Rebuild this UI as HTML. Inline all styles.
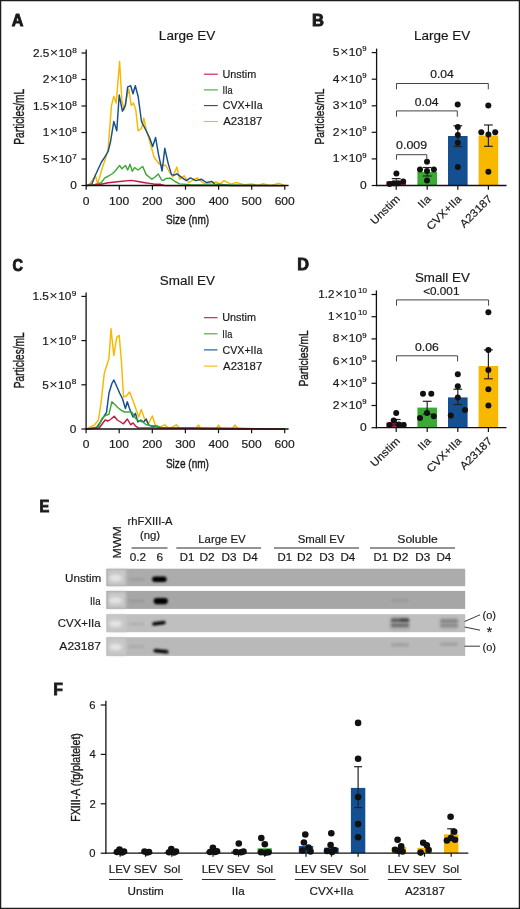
<!DOCTYPE html>
<html><head><meta charset="utf-8"><title>Figure</title><style>
html,body{margin:0;padding:0;background:#fff;}
svg{display:block;will-change:transform;}
text{font-family:"Liberation Sans",sans-serif;fill:#1a1a1a;stroke:#1a1a1a;stroke-width:0.18px;}
</style></head><body>
<svg width="520" height="909" viewBox="0 0 520 909">
<rect x="0" y="0" width="520" height="909" fill="#fff"/>
<text transform="translate(11.85,26.20) scale(1.020,1)" font-size="15.8" font-weight="bold" style="stroke-width:0.9px">A</text>
<text transform="translate(158.87,40.20) scale(1.043,1)" font-size="13.0" >Large EV</text>
<polyline points="86.5,185.6 89.6,183.9 92.5,180.0 95.4,175.8 97.7,183.9 100.0,176.0 102.3,167.7 105.0,160.0 108.1,149.2 111.5,105.4 113.8,96.2 116.2,103.1 119.6,61.5 121.9,100.8 124.2,110.0 126.5,98.5 128.8,89.2 131.2,105.4 133.5,103.1 135.8,110.0 138.1,130.8 141.5,128.5 143.8,118.1 146.2,129.6 149.6,141.0 154.2,157.5 158.8,163.5 162.3,165.5 165.5,165.0 168.6,170.5 172.7,176.9 176.9,167.1 179.6,179.2 184.2,175.8 188.8,182.7 193.0,180.0 197.1,177.9 203.8,183.3 209.2,183.3 216.0,182.0 220.0,184.0 224.0,180.6 230.8,184.1 236.2,182.5 244.2,184.6 252.0,184.0 258.0,185.6 263.0,183.8 270.0,185.6 279.2,183.3 285.0,185.6" fill="none" stroke="#f9b800" stroke-width="1.45" stroke-linejoin="round"/>
<polyline points="86.5,185.6 91.9,183.9 95.0,176.0 98.8,167.7 101.5,162.0 104.6,157.3 108.1,151.5 110.4,142.3 113.8,121.5 116.8,130.8 119.2,95.0 122.4,111.2 125.4,105.4 127.7,86.9 130.7,85.8 133.0,93.8 135.3,85.8 138.1,96.2 141.5,121.5 145.0,128.5 149.6,137.7 152.7,146.5 155.6,137.5 158.4,153.8 162.1,171.0 164.8,148.3 168.1,163.1 171.5,174.6 174.2,175.2 176.9,173.8 182.3,177.9 186.3,180.6 190.4,177.9 195.8,180.6 201.2,179.2 206.5,182.5 211.9,181.4 214.6,184.1 222.0,184.5 230.0,185.6 285.0,185.6" fill="none" stroke="#144f91" stroke-width="1.45" stroke-linejoin="round"/>
<polyline points="86.5,185.6 95.0,184.5 101.2,182.7 104.6,178.1 108.5,176.0 112.7,173.5 116.0,170.0 119.6,165.4 121.9,168.8 125.4,165.4 127.7,170.0 130.0,164.2 132.3,171.2 134.6,167.7 138.1,170.0 142.7,166.5 146.2,174.6 151.9,179.2 155.0,177.0 158.4,174.0 161.5,180.0 163.5,180.4 166.0,178.5 170.4,178.1 175.0,181.5 179.6,183.9 190.0,184.6 285.0,185.6" fill="none" stroke="#3aaa35" stroke-width="1.45" stroke-linejoin="round"/>
<polyline points="86.5,185.6 100.0,184.5 108.1,182.7 119.6,181.5 131.2,180.4 138.1,181.5 145.0,182.7 149.6,183.4 155.0,184.3 160.0,184.3 165.0,185.6 285.0,185.6" fill="none" stroke="#c4183f" stroke-width="1.45" stroke-linejoin="round"/>
<line x1="86.2" y1="49.6" x2="86.2" y2="186.1" stroke="#111" stroke-width="1.3"/>
<line x1="81.5" y1="185.5" x2="86.2" y2="185.5" stroke="#111" stroke-width="1.2"/>
<text transform="translate(76.95,189.40) scale(1.16,1)" font-size="10.2" text-anchor="end">0</text>
<line x1="81.5" y1="159.0" x2="86.2" y2="159.0" stroke="#111" stroke-width="1.2"/>
<text transform="translate(76.85,158.60) scale(1.25,1)" font-size="6.6" text-anchor="end">7</text>
<text transform="translate(71.90,162.90) scale(1.16,1)" font-size="10.2" text-anchor="end">5<tspan dx="0.4" font-size="12.5" stroke-width="0">&#215;</tspan><tspan dx="0.3">10</tspan></text>
<line x1="81.5" y1="132.5" x2="86.2" y2="132.5" stroke="#111" stroke-width="1.2"/>
<text transform="translate(76.85,132.10) scale(1.25,1)" font-size="6.6" text-anchor="end">8</text>
<text transform="translate(71.77,136.40) scale(1.16,1)" font-size="10.2" text-anchor="end">1<tspan dx="0.4" font-size="12.5" stroke-width="0">&#215;</tspan><tspan dx="0.3">10</tspan></text>
<line x1="81.5" y1="106.0" x2="86.2" y2="106.0" stroke="#111" stroke-width="1.2"/>
<text transform="translate(76.85,105.60) scale(1.25,1)" font-size="6.6" text-anchor="end">8</text>
<text transform="translate(71.77,109.90) scale(1.16,1)" font-size="10.2" text-anchor="end">1.5<tspan dx="0.4" font-size="12.5" stroke-width="0">&#215;</tspan><tspan dx="0.3">10</tspan></text>
<line x1="81.5" y1="79.5" x2="86.2" y2="79.5" stroke="#111" stroke-width="1.2"/>
<text transform="translate(76.85,79.10) scale(1.25,1)" font-size="6.6" text-anchor="end">8</text>
<text transform="translate(71.77,83.40) scale(1.16,1)" font-size="10.2" text-anchor="end">2<tspan dx="0.4" font-size="12.5" stroke-width="0">&#215;</tspan><tspan dx="0.3">10</tspan></text>
<line x1="81.5" y1="53.0" x2="86.2" y2="53.0" stroke="#111" stroke-width="1.2"/>
<text transform="translate(76.85,52.60) scale(1.25,1)" font-size="6.6" text-anchor="end">8</text>
<text transform="translate(71.77,56.90) scale(1.16,1)" font-size="10.2" text-anchor="end">2.5<tspan dx="0.4" font-size="12.5" stroke-width="0">&#215;</tspan><tspan dx="0.3">10</tspan></text>
<line x1="85.6" y1="185.5" x2="288.6" y2="185.5" stroke="#111" stroke-width="1.3"/>
<line x1="86.2" y1="185.5" x2="86.2" y2="189.7" stroke="#111" stroke-width="1.2"/>
<text transform="translate(82.82,204.90) scale(1.150,1)" font-size="10.5">0</text>
<line x1="119.3" y1="185.5" x2="119.3" y2="189.7" stroke="#111" stroke-width="1.2"/>
<text transform="translate(109.01,204.90) scale(1.150,1)" font-size="10.5">100</text>
<line x1="152.4" y1="185.5" x2="152.4" y2="189.7" stroke="#111" stroke-width="1.2"/>
<text transform="translate(142.26,204.90) scale(1.150,1)" font-size="10.5">200</text>
<line x1="185.5" y1="185.5" x2="185.5" y2="189.7" stroke="#111" stroke-width="1.2"/>
<text transform="translate(175.42,204.90) scale(1.150,1)" font-size="10.5">300</text>
<line x1="218.6" y1="185.5" x2="218.6" y2="189.7" stroke="#111" stroke-width="1.2"/>
<text transform="translate(208.64,204.90) scale(1.150,1)" font-size="10.5">400</text>
<line x1="251.7" y1="185.5" x2="251.7" y2="189.7" stroke="#111" stroke-width="1.2"/>
<text transform="translate(241.62,204.90) scale(1.150,1)" font-size="10.5">500</text>
<line x1="284.8" y1="185.5" x2="284.8" y2="189.7" stroke="#111" stroke-width="1.2"/>
<text transform="translate(274.66,204.90) scale(1.150,1)" font-size="10.5">600</text>
<text transform="translate(166.10,224.40) scale(0.741,1)" font-size="13.6" style="stroke-width:0.4px">Size (nm)</text>
<text transform="translate(23.71,144.66) rotate(-90) scale(0.739,1)" font-size="13.74" style="stroke-width:0.4px">Particles/mL</text>
<line x1="204.0" y1="74.2" x2="217.8" y2="74.2" stroke="#c4183f" stroke-width="1.1"/>
<text transform="translate(222.44,77.90) scale(1.024,1)" font-size="10.6" >Unstim</text>
<line x1="204.0" y1="89.9" x2="217.8" y2="89.9" stroke="#3aaa35" stroke-width="1.1"/>
<text transform="translate(222.42,93.60) scale(0.869,1)" font-size="10.6" >IIa</text>
<line x1="204.0" y1="105.6" x2="217.8" y2="105.6" stroke="#144f91" stroke-width="1.1"/>
<text transform="translate(222.72,109.30) scale(1.005,1)" font-size="10.6" >CVX+IIa</text>
<line x1="204.0" y1="121.5" x2="217.8" y2="121.5" stroke="#f9b800" stroke-width="1.1"/>
<text transform="translate(223.25,125.20) scale(1.073,1)" font-size="10.6" >A23187</text>
<text transform="translate(12.47,270.60) scale(0.918,1)" font-size="15.8" font-weight="bold" style="stroke-width:0.9px">C</text>
<text transform="translate(159.74,284.50) scale(1.036,1)" font-size="13.0" >Small EV</text>
<polyline points="86.3,429.1 88.8,427.7 94.6,424.8 98.5,420.0 101.3,400.8 104.2,373.8 107.1,364.2 109.0,358.5 111.0,328.7 113.8,355.6 116.7,337.3 119.2,335.4 121.5,362.3 123.5,397.0 126.3,396.0 129.6,392.0 133.0,400.8 136.5,410.4 138.8,417.0 141.3,409.4 144.6,419.0 148.5,423.8 152.3,416.0 155.2,424.8 159.0,426.7 161.0,426.7 164.8,424.8 167.7,427.7 171.5,427.7 176.3,424.8 179.0,427.7 185.0,428.0 196.0,428.0 198.7,425.0 201.0,429.1 216.0,429.1 218.6,425.0 221.0,429.1 232.0,429.1 235.0,425.0 238.0,429.1 285.0,429.1" fill="none" stroke="#f9b800" stroke-width="1.45" stroke-linejoin="round"/>
<polyline points="86.3,429.1 96.5,427.7 100.4,422.0 104.2,416.0 106.5,412.3 109.0,393.0 111.9,383.5 113.8,380.0 116.7,386.3 119.6,393.0 122.5,398.8 125.4,408.5 127.3,401.7 130.2,410.4 133.0,417.0 135.4,413.3 137.9,422.0 140.8,420.0 143.7,422.0 146.2,419.0 148.5,424.8 152.3,426.7 156.0,425.8 160.0,428.0 285.0,429.1" fill="none" stroke="#144f91" stroke-width="1.45" stroke-linejoin="round"/>
<polyline points="86.3,429.1 98.5,426.7 102.3,418.0 106.2,415.2 109.0,414.2 111.9,401.7 114.8,404.6 117.7,407.5 121.5,410.4 124.4,412.0 129.2,412.0 132.1,412.3 134.6,417.0 137.0,420.0 139.8,421.0 142.7,422.0 146.5,424.8 151.3,425.8 155.2,425.8 159.0,426.7 162.0,428.0 285.0,429.1" fill="none" stroke="#3aaa35" stroke-width="1.45" stroke-linejoin="round"/>
<polyline points="86.3,429.1 99.4,427.7 102.3,423.8 105.2,420.0 108.0,421.0 111.0,419.0 114.2,416.2 117.3,420.0 120.6,422.0 123.5,423.8 127.3,419.0 130.8,424.8 133.0,422.9 135.4,425.8 137.9,427.7 285.0,429.1" fill="none" stroke="#c4183f" stroke-width="1.45" stroke-linejoin="round"/>
<line x1="86.1" y1="292.6" x2="86.1" y2="429.6" stroke="#111" stroke-width="1.3"/>
<line x1="81.4" y1="429.0" x2="86.1" y2="429.0" stroke="#111" stroke-width="1.2"/>
<text transform="translate(76.45,432.90) scale(1.16,1)" font-size="10.2" text-anchor="end">0</text>
<line x1="81.4" y1="384.8" x2="86.1" y2="384.8" stroke="#111" stroke-width="1.2"/>
<text transform="translate(76.35,384.40) scale(1.25,1)" font-size="6.6" text-anchor="end">8</text>
<text transform="translate(71.27,388.70) scale(1.16,1)" font-size="10.2" text-anchor="end">5<tspan dx="0.4" font-size="12.5" stroke-width="0">&#215;</tspan><tspan dx="0.3">10</tspan></text>
<line x1="81.4" y1="340.6" x2="86.1" y2="340.6" stroke="#111" stroke-width="1.2"/>
<text transform="translate(76.35,340.20) scale(1.25,1)" font-size="6.6" text-anchor="end">9</text>
<text transform="translate(71.31,344.50) scale(1.16,1)" font-size="10.2" text-anchor="end">1<tspan dx="0.4" font-size="12.5" stroke-width="0">&#215;</tspan><tspan dx="0.3">10</tspan></text>
<line x1="81.4" y1="296.4" x2="86.1" y2="296.4" stroke="#111" stroke-width="1.2"/>
<text transform="translate(76.35,296.00) scale(1.25,1)" font-size="6.6" text-anchor="end">9</text>
<text transform="translate(71.31,300.30) scale(1.16,1)" font-size="10.2" text-anchor="end">1.5<tspan dx="0.4" font-size="12.5" stroke-width="0">&#215;</tspan><tspan dx="0.3">10</tspan></text>
<line x1="85.5" y1="429.0" x2="288.6" y2="429.0" stroke="#111" stroke-width="1.3"/>
<line x1="86.1" y1="429.0" x2="86.1" y2="433.2" stroke="#111" stroke-width="1.2"/>
<text transform="translate(82.72,448.40) scale(1.150,1)" font-size="10.5">0</text>
<line x1="119.2" y1="429.0" x2="119.2" y2="433.2" stroke="#111" stroke-width="1.2"/>
<text transform="translate(108.91,448.40) scale(1.150,1)" font-size="10.5">100</text>
<line x1="152.3" y1="429.0" x2="152.3" y2="433.2" stroke="#111" stroke-width="1.2"/>
<text transform="translate(142.16,448.40) scale(1.150,1)" font-size="10.5">200</text>
<line x1="185.4" y1="429.0" x2="185.4" y2="433.2" stroke="#111" stroke-width="1.2"/>
<text transform="translate(175.32,448.40) scale(1.150,1)" font-size="10.5">300</text>
<line x1="218.5" y1="429.0" x2="218.5" y2="433.2" stroke="#111" stroke-width="1.2"/>
<text transform="translate(208.54,448.40) scale(1.150,1)" font-size="10.5">400</text>
<line x1="251.6" y1="429.0" x2="251.6" y2="433.2" stroke="#111" stroke-width="1.2"/>
<text transform="translate(241.52,448.40) scale(1.150,1)" font-size="10.5">500</text>
<line x1="284.7" y1="429.0" x2="284.7" y2="433.2" stroke="#111" stroke-width="1.2"/>
<text transform="translate(274.56,448.40) scale(1.150,1)" font-size="10.5">600</text>
<text transform="translate(165.90,467.90) scale(0.741,1)" font-size="13.6" style="stroke-width:0.4px">Size (nm)</text>
<text transform="translate(23.71,388.16) rotate(-90) scale(0.739,1)" font-size="13.74" style="stroke-width:0.4px">Particles/mL</text>
<line x1="204.0" y1="317.7" x2="217.5" y2="317.7" stroke="#c4183f" stroke-width="1.1"/>
<text transform="translate(222.24,321.40) scale(1.024,1)" font-size="10.6" >Unstim</text>
<line x1="204.0" y1="333.8" x2="217.5" y2="333.8" stroke="#3aaa35" stroke-width="1.1"/>
<text transform="translate(222.22,337.50) scale(0.869,1)" font-size="10.6" >IIa</text>
<line x1="204.0" y1="349.9" x2="217.5" y2="349.9" stroke="#144f91" stroke-width="1.1"/>
<text transform="translate(222.52,353.60) scale(1.005,1)" font-size="10.6" >CVX+IIa</text>
<line x1="204.0" y1="366.1" x2="217.5" y2="366.1" stroke="#f9b800" stroke-width="1.1"/>
<text transform="translate(223.05,369.80) scale(1.073,1)" font-size="10.6" >A23187</text>
<text transform="translate(311.97,26.00) scale(1.048,1)" font-size="15.8" font-weight="bold" style="stroke-width:0.9px">B</text>
<text transform="translate(414.07,39.80) scale(1.039,1)" font-size="13.0" >Large EV</text>
<line x1="376.6" y1="48.6" x2="376.6" y2="186.1" stroke="#111" stroke-width="1.3"/>
<line x1="371.7" y1="185.5" x2="376.6" y2="185.5" stroke="#111" stroke-width="1.2"/>
<text transform="translate(366.75,189.00) scale(1.2,1)" font-size="10.0" text-anchor="end">0</text>
<line x1="371.7" y1="158.9" x2="376.6" y2="158.9" stroke="#111" stroke-width="1.2"/>
<text transform="translate(366.65,157.50) scale(1.17,1)" font-size="6.6" text-anchor="end">9</text>
<text transform="translate(362.16,162.40) scale(1.2,1)" font-size="10.0" text-anchor="end">1<tspan dx="0.4" font-size="12.2" stroke-width="0">&#215;</tspan><tspan dx="0.3">10</tspan></text>
<line x1="371.7" y1="132.3" x2="376.6" y2="132.3" stroke="#111" stroke-width="1.2"/>
<text transform="translate(366.65,130.90) scale(1.17,1)" font-size="6.6" text-anchor="end">9</text>
<text transform="translate(362.16,135.80) scale(1.2,1)" font-size="10.0" text-anchor="end">2<tspan dx="0.4" font-size="12.2" stroke-width="0">&#215;</tspan><tspan dx="0.3">10</tspan></text>
<line x1="371.7" y1="105.8" x2="376.6" y2="105.8" stroke="#111" stroke-width="1.2"/>
<text transform="translate(366.65,104.40) scale(1.17,1)" font-size="6.6" text-anchor="end">9</text>
<text transform="translate(362.16,109.30) scale(1.2,1)" font-size="10.0" text-anchor="end">3<tspan dx="0.4" font-size="12.2" stroke-width="0">&#215;</tspan><tspan dx="0.3">10</tspan></text>
<line x1="371.7" y1="79.2" x2="376.6" y2="79.2" stroke="#111" stroke-width="1.2"/>
<text transform="translate(366.65,77.80) scale(1.17,1)" font-size="6.6" text-anchor="end">9</text>
<text transform="translate(362.16,82.70) scale(1.2,1)" font-size="10.0" text-anchor="end">4<tspan dx="0.4" font-size="12.2" stroke-width="0">&#215;</tspan><tspan dx="0.3">10</tspan></text>
<line x1="371.7" y1="52.6" x2="376.6" y2="52.6" stroke="#111" stroke-width="1.2"/>
<text transform="translate(366.65,51.20) scale(1.17,1)" font-size="6.6" text-anchor="end">9</text>
<text transform="translate(362.16,56.10) scale(1.2,1)" font-size="10.0" text-anchor="end">5<tspan dx="0.4" font-size="12.2" stroke-width="0">&#215;</tspan><tspan dx="0.3">10</tspan></text>
<rect x="386.4" y="181.3" width="19.6" height="4.2" fill="#c4183f" />
<rect x="417.4" y="172.0" width="19.6" height="13.5" fill="#3aaa35" />
<rect x="448.0" y="136.0" width="19.6" height="49.5" fill="#144f91" />
<rect x="478.6" y="135.5" width="19.6" height="50.0" fill="#f9b800" />
<line x1="396.2" y1="184.0" x2="396.2" y2="178.6" stroke="#222" stroke-width="1.2"/>
<line x1="391.8" y1="178.6" x2="400.6" y2="178.6" stroke="#222" stroke-width="1.2"/>
<line x1="391.8" y1="184.0" x2="400.6" y2="184.0" stroke="#222" stroke-width="1.2"/>
<circle cx="396.4" cy="173.6" r="3.0" fill="#111"/>
<circle cx="389.6" cy="184.0" r="3.0" fill="#111"/>
<circle cx="393.8" cy="183.2" r="3.0" fill="#111"/>
<circle cx="398.3" cy="183.2" r="3.0" fill="#111"/>
<circle cx="403.2" cy="181.5" r="3.0" fill="#111"/>
<line x1="427.2" y1="176.0" x2="427.2" y2="167.5" stroke="#222" stroke-width="1.2"/>
<line x1="422.8" y1="167.5" x2="431.6" y2="167.5" stroke="#222" stroke-width="1.2"/>
<line x1="422.8" y1="176.0" x2="431.6" y2="176.0" stroke="#222" stroke-width="1.2"/>
<circle cx="427.0" cy="161.8" r="3.0" fill="#111"/>
<circle cx="420.0" cy="169.5" r="3.0" fill="#111"/>
<circle cx="433.9" cy="169.5" r="3.0" fill="#111"/>
<circle cx="427.0" cy="170.9" r="3.0" fill="#111"/>
<circle cx="427.0" cy="180.6" r="3.0" fill="#111"/>
<line x1="457.8" y1="146.5" x2="457.8" y2="125.8" stroke="#222" stroke-width="1.2"/>
<line x1="453.4" y1="125.8" x2="462.2" y2="125.8" stroke="#222" stroke-width="1.2"/>
<line x1="453.4" y1="146.5" x2="462.2" y2="146.5" stroke="#222" stroke-width="1.2"/>
<circle cx="457.7" cy="104.6" r="3.0" fill="#111"/>
<circle cx="457.8" cy="127.0" r="3.0" fill="#111"/>
<circle cx="457.8" cy="135.0" r="3.0" fill="#111"/>
<circle cx="457.8" cy="142.8" r="3.0" fill="#111"/>
<circle cx="457.8" cy="167.0" r="3.0" fill="#111"/>
<line x1="488.4" y1="146.3" x2="488.4" y2="125.0" stroke="#222" stroke-width="1.2"/>
<line x1="484.0" y1="125.0" x2="492.8" y2="125.0" stroke="#222" stroke-width="1.2"/>
<line x1="484.0" y1="146.3" x2="492.8" y2="146.3" stroke="#222" stroke-width="1.2"/>
<circle cx="488.3" cy="105.4" r="3.0" fill="#111"/>
<circle cx="481.3" cy="132.2" r="3.0" fill="#111"/>
<circle cx="488.4" cy="134.6" r="3.0" fill="#111"/>
<circle cx="495.2" cy="132.2" r="3.0" fill="#111"/>
<circle cx="488.4" cy="171.7" r="3.0" fill="#111"/>
<line x1="376.0" y1="185.5" x2="506.5" y2="185.5" stroke="#111" stroke-width="1.3"/>
<line x1="396.2" y1="185.5" x2="396.2" y2="189.7" stroke="#111" stroke-width="1.2"/>
<line x1="427.2" y1="185.5" x2="427.2" y2="189.7" stroke="#111" stroke-width="1.2"/>
<line x1="457.8" y1="185.5" x2="457.8" y2="189.7" stroke="#111" stroke-width="1.2"/>
<line x1="488.4" y1="185.5" x2="488.4" y2="189.7" stroke="#111" stroke-width="1.2"/>
<text transform="translate(400.6,199.5) rotate(-45) scale(1.08,1)" font-size="10.9" text-anchor="end">Unstim</text>
<text transform="translate(431.6,199.5) rotate(-45) scale(1.08,1)" font-size="10.9" text-anchor="end">IIa</text>
<text transform="translate(462.2,199.5) rotate(-45) scale(1.08,1)" font-size="10.9" text-anchor="end">CVX+IIa</text>
<text transform="translate(492.8,199.5) rotate(-45) scale(1.08,1)" font-size="10.9" text-anchor="end">A23187</text>
<text transform="translate(323.81,144.46) rotate(-90) scale(0.747,1)" font-size="13.61" style="stroke-width:0.4px">Particles/mL</text>
<polyline points="396.5,89.3 396.5,83.5 488.3,83.5 488.3,89.3" fill="none" stroke="#444" stroke-width="1.0"/>
<text transform="translate(430.16,78.00) scale(1.192,1)" font-size="10.2" >0.04</text>
<polyline points="396.5,116.7 396.5,110.9 457.3,110.9 457.3,116.7" fill="none" stroke="#444" stroke-width="1.0"/>
<text transform="translate(414.76,105.70) scale(1.197,1)" font-size="10.2" >0.04</text>
<polyline points="396.5,159.7 396.5,154.7 426.8,154.7 426.8,159.7" fill="none" stroke="#444" stroke-width="1.0"/>
<text transform="translate(396.10,148.80) scale(1.220,1)" font-size="10.2" >0.009</text>
<text transform="translate(297.19,270.20) scale(1.029,1)" font-size="15.8" font-weight="bold" style="stroke-width:0.9px">D</text>
<text transform="translate(414.95,282.20) scale(1.027,1)" font-size="13.0" >Small EV</text>
<line x1="376.4" y1="290.4" x2="376.4" y2="428.3" stroke="#111" stroke-width="1.3"/>
<line x1="371.5" y1="427.7" x2="376.4" y2="427.7" stroke="#111" stroke-width="1.2"/>
<text transform="translate(366.75,431.20) scale(1.2,1)" font-size="10.0" text-anchor="end">0</text>
<line x1="371.5" y1="405.5" x2="376.4" y2="405.5" stroke="#111" stroke-width="1.2"/>
<text transform="translate(366.65,404.10) scale(1.17,1)" font-size="6.6" text-anchor="end">9</text>
<text transform="translate(362.16,409.00) scale(1.2,1)" font-size="10.0" text-anchor="end">2<tspan dx="0.4" font-size="12.2" stroke-width="0">&#215;</tspan><tspan dx="0.3">10</tspan></text>
<line x1="371.5" y1="383.3" x2="376.4" y2="383.3" stroke="#111" stroke-width="1.2"/>
<text transform="translate(366.65,381.90) scale(1.17,1)" font-size="6.6" text-anchor="end">9</text>
<text transform="translate(362.16,386.80) scale(1.2,1)" font-size="10.0" text-anchor="end">4<tspan dx="0.4" font-size="12.2" stroke-width="0">&#215;</tspan><tspan dx="0.3">10</tspan></text>
<line x1="371.5" y1="361.1" x2="376.4" y2="361.1" stroke="#111" stroke-width="1.2"/>
<text transform="translate(366.65,359.70) scale(1.17,1)" font-size="6.6" text-anchor="end">9</text>
<text transform="translate(362.16,364.60) scale(1.2,1)" font-size="10.0" text-anchor="end">6<tspan dx="0.4" font-size="12.2" stroke-width="0">&#215;</tspan><tspan dx="0.3">10</tspan></text>
<line x1="371.5" y1="338.9" x2="376.4" y2="338.9" stroke="#111" stroke-width="1.2"/>
<text transform="translate(366.65,337.50) scale(1.17,1)" font-size="6.6" text-anchor="end">9</text>
<text transform="translate(362.16,342.40) scale(1.2,1)" font-size="10.0" text-anchor="end">8<tspan dx="0.4" font-size="12.2" stroke-width="0">&#215;</tspan><tspan dx="0.3">10</tspan></text>
<line x1="371.5" y1="316.7" x2="376.4" y2="316.7" stroke="#111" stroke-width="1.2"/>
<text transform="translate(366.95,315.00) scale(1.12,1)" font-size="7.2" text-anchor="end">10</text>
<text transform="translate(356.39,320.10) scale(1.16,1)" font-size="10.0" text-anchor="end">1<tspan dx="0.4" font-size="12.2" stroke-width="0">&#215;</tspan><tspan dx="0.3">10</tspan></text>
<line x1="371.5" y1="294.5" x2="376.4" y2="294.5" stroke="#111" stroke-width="1.2"/>
<text transform="translate(366.95,292.80) scale(1.12,1)" font-size="7.2" text-anchor="end">10</text>
<text transform="translate(356.39,297.90) scale(1.16,1)" font-size="10.0" text-anchor="end">1.2<tspan dx="0.4" font-size="12.2" stroke-width="0">&#215;</tspan><tspan dx="0.3">10</tspan></text>
<rect x="386.4" y="422.5" width="19.6" height="5.2" fill="#c4183f" />
<rect x="417.4" y="407.6" width="19.6" height="20.1" fill="#3aaa35" />
<rect x="448.0" y="397.4" width="19.6" height="30.3" fill="#144f91" />
<rect x="478.6" y="366.0" width="19.6" height="61.7" fill="#f9b800" />
<line x1="396.2" y1="425.0" x2="396.2" y2="419.5" stroke="#222" stroke-width="1.2"/>
<line x1="391.8" y1="419.5" x2="400.6" y2="419.5" stroke="#222" stroke-width="1.2"/>
<line x1="391.8" y1="425.0" x2="400.6" y2="425.0" stroke="#222" stroke-width="1.2"/>
<circle cx="396.2" cy="413.0" r="3.0" fill="#111"/>
<circle cx="393.7" cy="420.5" r="3.0" fill="#111"/>
<circle cx="389.6" cy="425.0" r="3.0" fill="#111"/>
<circle cx="398.7" cy="424.5" r="3.0" fill="#111"/>
<circle cx="403.7" cy="425.0" r="3.0" fill="#111"/>
<line x1="427.2" y1="414.0" x2="427.2" y2="401.3" stroke="#222" stroke-width="1.2"/>
<line x1="422.8" y1="401.3" x2="431.6" y2="401.3" stroke="#222" stroke-width="1.2"/>
<line x1="422.8" y1="414.0" x2="431.6" y2="414.0" stroke="#222" stroke-width="1.2"/>
<circle cx="423.0" cy="393.7" r="3.0" fill="#111"/>
<circle cx="431.3" cy="393.7" r="3.0" fill="#111"/>
<circle cx="427.0" cy="413.0" r="3.0" fill="#111"/>
<circle cx="420.0" cy="418.0" r="3.0" fill="#111"/>
<circle cx="433.8" cy="416.3" r="3.0" fill="#111"/>
<line x1="457.8" y1="404.5" x2="457.8" y2="389.2" stroke="#222" stroke-width="1.2"/>
<line x1="453.4" y1="389.2" x2="462.2" y2="389.2" stroke="#222" stroke-width="1.2"/>
<line x1="453.4" y1="404.5" x2="462.2" y2="404.5" stroke="#222" stroke-width="1.2"/>
<circle cx="457.8" cy="374.3" r="3.0" fill="#111"/>
<circle cx="457.8" cy="386.2" r="3.0" fill="#111"/>
<circle cx="457.8" cy="397.5" r="3.0" fill="#111"/>
<circle cx="465.0" cy="410.0" r="3.0" fill="#111"/>
<circle cx="450.8" cy="415.5" r="3.0" fill="#111"/>
<line x1="488.4" y1="378.8" x2="488.4" y2="349.9" stroke="#222" stroke-width="1.2"/>
<line x1="484.0" y1="349.9" x2="492.8" y2="349.9" stroke="#222" stroke-width="1.2"/>
<line x1="484.0" y1="378.8" x2="492.8" y2="378.8" stroke="#222" stroke-width="1.2"/>
<circle cx="488.4" cy="312.3" r="3.0" fill="#111"/>
<circle cx="488.4" cy="349.9" r="3.0" fill="#111"/>
<circle cx="488.4" cy="370.0" r="3.0" fill="#111"/>
<circle cx="488.4" cy="389.2" r="3.0" fill="#111"/>
<circle cx="488.4" cy="405.5" r="3.0" fill="#111"/>
<line x1="375.8" y1="427.7" x2="506.5" y2="427.7" stroke="#111" stroke-width="1.3"/>
<line x1="396.2" y1="427.7" x2="396.2" y2="431.9" stroke="#111" stroke-width="1.2"/>
<line x1="427.2" y1="427.7" x2="427.2" y2="431.9" stroke="#111" stroke-width="1.2"/>
<line x1="457.8" y1="427.7" x2="457.8" y2="431.9" stroke="#111" stroke-width="1.2"/>
<line x1="488.4" y1="427.7" x2="488.4" y2="431.9" stroke="#111" stroke-width="1.2"/>
<text transform="translate(400.6,441.7) rotate(-45) scale(1.08,1)" font-size="10.9" text-anchor="end">Unstim</text>
<text transform="translate(431.6,441.7) rotate(-45) scale(1.08,1)" font-size="10.9" text-anchor="end">IIa</text>
<text transform="translate(462.2,441.7) rotate(-45) scale(1.08,1)" font-size="10.9" text-anchor="end">CVX+IIa</text>
<text transform="translate(492.8,441.7) rotate(-45) scale(1.08,1)" font-size="10.9" text-anchor="end">A23187</text>
<text transform="translate(308.33,386.47) rotate(-90) scale(0.852,1)" font-size="11.97" style="stroke-width:0.4px">Particles/mL</text>
<polyline points="396.5,305.7 396.5,299.9 488.6,299.9 488.6,305.7" fill="none" stroke="#444" stroke-width="1.0"/>
<text transform="translate(423.16,295.30) scale(1.154,1)" font-size="10.2" >&lt;0.001</text>
<polyline points="396.5,361.4 396.5,355.8 457.6,355.8 457.6,361.4" fill="none" stroke="#444" stroke-width="1.0"/>
<text transform="translate(415.06,350.90) scale(1.199,1)" font-size="10.2" >0.06</text>
<text transform="translate(39.60,512.20) scale(0.930,1)" font-size="15.8" font-weight="bold" style="stroke-width:0.9px">E</text>
<text transform="translate(121.25,558.44) rotate(-90) scale(1.171,1)" font-size="10.58" >MWM</text>
<text transform="translate(127.52,525.20) scale(1.062,1)" font-size="10.6" >rhFXIII-A</text>
<text transform="translate(139.97,538.70) scale(1.103,1)" font-size="10.3" >(ng)</text>
<line x1="131.6" y1="548.0" x2="167.5" y2="548.0" stroke="#2a2a2a" stroke-width="1.1"/>
<text transform="translate(129.68,560.50) scale(1.063,1)" font-size="11.0" >0.2</text>
<text transform="translate(156.46,560.50) scale(1.075,1)" font-size="11.0" >6</text>
<line x1="176.3" y1="548.0" x2="261.1" y2="548.0" stroke="#2a2a2a" stroke-width="1.1"/>
<text transform="translate(198.24,542.70) scale(1.095,1)" font-size="10.4" >Large EV</text>
<text transform="translate(179.74,561.20) scale(1.117,1)" font-size="10.2" >D1</text>
<text transform="translate(199.39,561.20) scale(1.173,1)" font-size="10.2" >D2</text>
<text transform="translate(221.61,561.20) scale(1.146,1)" font-size="10.2" >D3</text>
<text transform="translate(242.72,561.20) scale(1.144,1)" font-size="10.2" >D4</text>
<line x1="274.0" y1="548.0" x2="359.0" y2="548.0" stroke="#2a2a2a" stroke-width="1.1"/>
<text transform="translate(297.64,542.70) scale(1.097,1)" font-size="10.4" >Small EV</text>
<text transform="translate(277.44,561.20) scale(1.117,1)" font-size="10.2" >D1</text>
<text transform="translate(297.09,561.20) scale(1.173,1)" font-size="10.2" >D2</text>
<text transform="translate(319.31,561.20) scale(1.146,1)" font-size="10.2" >D3</text>
<text transform="translate(340.42,561.20) scale(1.144,1)" font-size="10.2" >D4</text>
<line x1="370.0" y1="548.0" x2="455.0" y2="548.0" stroke="#2a2a2a" stroke-width="1.1"/>
<text transform="translate(397.31,542.70) scale(1.165,1)" font-size="10.4" >Soluble</text>
<text transform="translate(373.44,561.20) scale(1.117,1)" font-size="10.2" >D1</text>
<text transform="translate(393.09,561.20) scale(1.173,1)" font-size="10.2" >D2</text>
<text transform="translate(415.31,561.20) scale(1.146,1)" font-size="10.2" >D3</text>
<text transform="translate(436.42,561.20) scale(1.144,1)" font-size="10.2" >D4</text>
<defs><filter id="bl" x="-50%" y="-50%" width="200%" height="200%"><feGaussianBlur stdDeviation="0.9"/></filter><filter id="bl2" x="-50%" y="-50%" width="200%" height="200%"><feGaussianBlur stdDeviation="1.6"/></filter><filter id="bl3" x="-50%" y="-50%" width="200%" height="200%"><feGaussianBlur stdDeviation="1.15"/></filter></defs>
<rect x="106.3" y="568.7" width="358.9" height="17.5" fill="#acacac" />
<rect x="106.3" y="590.9" width="358.9" height="18.0" fill="#a6a6a6" />
<rect x="106.3" y="614.2" width="358.9" height="18.0" fill="#bfbfbf" />
<rect x="106.3" y="637.2" width="358.9" height="18.7" fill="#b9b9b9" />
<g filter="url(#bl2)">
<rect x="107.5" y="569.5" width="18.5" height="15.9" fill="#c8c8c8" />
<ellipse cx="115.5" cy="578.0" rx="6.5" ry="3.2" fill="#e4e4e4"/>
<rect x="107.5" y="591.7" width="18.5" height="16.4" fill="#c8c8c8" />
<ellipse cx="115.5" cy="600.4" rx="6.5" ry="3.2" fill="#e4e4e4"/>
<rect x="107.5" y="615.0" width="18.5" height="16.4" fill="#c8c8c8" />
<ellipse cx="115.5" cy="623.7" rx="6.5" ry="3.2" fill="#e4e4e4"/>
<rect x="107.5" y="638.0" width="18.5" height="17.1" fill="#c8c8c8" />
<ellipse cx="115.5" cy="647.0" rx="6.5" ry="3.2" fill="#e4e4e4"/>
</g>
<text transform="translate(65.08,582.30) scale(1.041,1)" font-size="11.2" >Unstim</text>
<text transform="translate(89.88,604.80) scale(0.867,1)" font-size="11.2" >IIa</text>
<text transform="translate(57.78,627.40) scale(1.021,1)" font-size="11.2" >CVX+IIa</text>
<text transform="translate(59.35,650.40) scale(1.078,1)" font-size="11.2" >A23187</text>
<rect x="152.1" y="576.6" width="14.6" height="5.4" rx="2.7" fill="#050505" transform="rotate(0.00,159.4,579.3)" filter="url(#bl)"/>
<rect x="153.6" y="598.0" width="14.3" height="6.2" rx="3.1" fill="#050505" transform="rotate(0.00,160.8,601.1)" filter="url(#bl)"/>
<rect x="152.1" y="621.5" width="13.6" height="3.6" rx="1.8" fill="#050505" transform="rotate(-7.74,158.9,623.3)" filter="url(#bl)"/>
<rect x="153.5" y="649.5" width="15.1" height="3.4" rx="1.7" fill="#050505" transform="rotate(5.62,161.1,651.2)" filter="url(#bl)"/>
<rect x="129" y="578.0" width="15" height="3" fill="#000" opacity="0.07" filter="url(#bl)"/>
<rect x="129" y="599.5" width="15" height="3" fill="#000" opacity="0.07" filter="url(#bl)"/>
<rect x="129" y="622.5" width="15" height="3" fill="#000" opacity="0.07" filter="url(#bl)"/>
<rect x="129" y="645.0" width="15" height="3" fill="#000" opacity="0.07" filter="url(#bl)"/>
<rect x="391.0" y="618.5" width="18" height="3.4" rx="1.5" fill="#000" opacity="0.45" filter="url(#bl3)"/>
<rect x="391.0" y="623.6" width="18" height="3.4" rx="1.5" fill="#000" opacity="0.35" filter="url(#bl3)"/>
<rect x="440.0" y="619.3" width="18" height="3.4" rx="1.5" fill="#000" opacity="0.25" filter="url(#bl3)"/>
<rect x="440.0" y="623.8" width="18" height="3.4" rx="1.5" fill="#000" opacity="0.22" filter="url(#bl3)"/>
<rect x="391.0" y="643.1" width="18" height="3.4" rx="1.5" fill="#000" opacity="0.12" filter="url(#bl3)"/>
<rect x="440.0" y="642.5" width="18" height="3.4" rx="1.5" fill="#000" opacity="0.12" filter="url(#bl3)"/>
<rect x="391.0" y="598.5" width="18" height="3.4" rx="1.5" fill="#000" opacity="0.06" filter="url(#bl3)"/>
<rect x="389.5" y="616.8" width="20.5" height="13.5" rx="3" fill="#000" opacity="0.10" filter="url(#bl2)"/>
<rect x="439.5" y="617.0" width="19" height="13" rx="3" fill="#000" opacity="0.06" filter="url(#bl2)"/>
<rect x="400" y="618.6" width="9" height="3" rx="1.5" fill="#000" opacity="0.25" filter="url(#bl)"/>
<line x1="464.6" y1="621.5" x2="480.0" y2="614.8" stroke="#222" stroke-width="0.9"/>
<line x1="464.6" y1="627.0" x2="480.0" y2="630.2" stroke="#222" stroke-width="0.9"/>
<line x1="464.6" y1="646.2" x2="480.0" y2="646.2" stroke="#222" stroke-width="0.9"/>
<text transform="translate(482.49,618.60) scale(0.982,1)" font-size="11.2" >(o)</text>
<text x="489.6" y="637.4" font-size="14" text-anchor="middle">*</text>
<text transform="translate(482.49,651.30) scale(0.982,1)" font-size="11.2" >(o)</text>
<text transform="translate(53.56,694.60) scale(0.968,1)" font-size="15.8" font-weight="bold" style="stroke-width:0.9px">F</text>
<line x1="105.9" y1="700.8" x2="105.9" y2="853.8" stroke="#111" stroke-width="1.3"/>
<line x1="100.7" y1="853.2" x2="105.9" y2="853.2" stroke="#111" stroke-width="1.2"/>
<text transform="translate(89.36,857.00) scale(1.100,1)" font-size="10.2">0</text>
<line x1="100.7" y1="803.8" x2="105.9" y2="803.8" stroke="#111" stroke-width="1.2"/>
<text transform="translate(89.39,807.60) scale(1.100,1)" font-size="10.2">2</text>
<line x1="100.7" y1="754.4" x2="105.9" y2="754.4" stroke="#111" stroke-width="1.2"/>
<text transform="translate(89.44,758.20) scale(1.100,1)" font-size="10.2">4</text>
<line x1="100.7" y1="705.0" x2="105.9" y2="705.0" stroke="#111" stroke-width="1.2"/>
<text transform="translate(89.33,708.80) scale(1.100,1)" font-size="10.2">6</text>
<text transform="translate(80.39,821.80) rotate(-90) scale(0.873,1)" font-size="12.19" style="stroke-width:0.35px">FXIII-A (fg/platelet)</text>
<text transform="translate(108.75,873.20) scale(1.100,1)" font-size="10.5">LEV</text>
<text transform="translate(133.82,873.20) scale(1.100,1)" font-size="10.5">SEV</text>
<text transform="translate(163.57,873.20) scale(1.100,1)" font-size="10.5">Sol</text>
<line x1="109.0" y1="879.5" x2="182.7" y2="879.5" stroke="#2a2a2a" stroke-width="1.1"/>
<text transform="translate(127.58,894.60) scale(1.100,1)" font-size="10.6">Unstim</text>
<text transform="translate(201.65,873.20) scale(1.100,1)" font-size="10.5">LEV</text>
<text transform="translate(226.72,873.20) scale(1.100,1)" font-size="10.5">SEV</text>
<text transform="translate(256.47,873.20) scale(1.100,1)" font-size="10.5">Sol</text>
<line x1="201.9" y1="879.5" x2="275.6" y2="879.5" stroke="#2a2a2a" stroke-width="1.1"/>
<text transform="translate(231.70,894.60) scale(1.100,1)" font-size="10.6">IIa</text>
<text transform="translate(294.65,873.20) scale(1.100,1)" font-size="10.5">LEV</text>
<text transform="translate(319.72,873.20) scale(1.100,1)" font-size="10.5">SEV</text>
<text transform="translate(349.47,873.20) scale(1.100,1)" font-size="10.5">Sol</text>
<line x1="294.9" y1="879.5" x2="368.6" y2="879.5" stroke="#2a2a2a" stroke-width="1.1"/>
<text transform="translate(309.55,894.60) scale(1.100,1)" font-size="10.6">CVX+IIa</text>
<text transform="translate(387.65,873.20) scale(1.100,1)" font-size="10.5">LEV</text>
<text transform="translate(412.72,873.20) scale(1.100,1)" font-size="10.5">SEV</text>
<text transform="translate(442.47,873.20) scale(1.100,1)" font-size="10.5">Sol</text>
<line x1="387.9" y1="879.5" x2="461.6" y2="879.5" stroke="#2a2a2a" stroke-width="1.1"/>
<text transform="translate(404.91,894.60) scale(1.100,1)" font-size="10.6">A23187</text>
<rect x="112.9" y="852.0" width="14.4" height="1.2" fill="#c4183f" />
<rect x="138.4" y="852.5" width="14.4" height="0.7" fill="#c4183f" />
<rect x="164.6" y="851.8" width="14.4" height="1.4" fill="#c4183f" />
<rect x="205.8" y="851.0" width="14.4" height="2.2" fill="#3aaa35" />
<rect x="231.3" y="851.0" width="14.4" height="2.2" fill="#3aaa35" />
<rect x="257.5" y="848.3" width="14.4" height="4.9" fill="#3aaa35" />
<rect x="298.8" y="846.0" width="14.4" height="7.2" fill="#144f91" />
<rect x="324.3" y="847.7" width="14.4" height="5.5" fill="#144f91" />
<rect x="350.9" y="787.9" width="14.4" height="65.3" fill="#144f91" />
<rect x="391.8" y="847.0" width="14.4" height="6.2" fill="#f9b800" />
<rect x="417.3" y="847.8" width="14.4" height="5.4" fill="#f9b800" />
<rect x="444.0" y="834.3" width="14.4" height="18.9" fill="#f9b800" />
<circle cx="119.5" cy="849.5" r="3.3" fill="#111"/>
<circle cx="117.0" cy="852.0" r="3.3" fill="#111"/>
<circle cx="122.0" cy="852.5" r="3.3" fill="#111"/>
<circle cx="124.0" cy="851.5" r="3.3" fill="#111"/>
<circle cx="144.5" cy="851.5" r="3.3" fill="#111"/>
<circle cx="147.0" cy="852.5" r="3.3" fill="#111"/>
<circle cx="149.0" cy="852.0" r="3.3" fill="#111"/>
<circle cx="171.3" cy="849.0" r="3.3" fill="#111"/>
<circle cx="169.0" cy="852.3" r="3.3" fill="#111"/>
<circle cx="174.0" cy="852.5" r="3.3" fill="#111"/>
<circle cx="176.0" cy="851.5" r="3.3" fill="#111"/>
<circle cx="212.9" cy="847.7" r="3.3" fill="#111"/>
<circle cx="210.0" cy="852.0" r="3.3" fill="#111"/>
<circle cx="215.0" cy="852.0" r="3.3" fill="#111"/>
<circle cx="217.0" cy="851.3" r="3.3" fill="#111"/>
<circle cx="238.8" cy="843.5" r="3.3" fill="#111"/>
<circle cx="236.0" cy="852.0" r="3.3" fill="#111"/>
<circle cx="241.0" cy="852.3" r="3.3" fill="#111"/>
<circle cx="243.5" cy="851.5" r="3.3" fill="#111"/>
<circle cx="261.3" cy="838.0" r="3.3" fill="#111"/>
<circle cx="264.8" cy="844.2" r="3.3" fill="#111"/>
<circle cx="261.0" cy="852.3" r="3.3" fill="#111"/>
<circle cx="265.5" cy="852.8" r="3.3" fill="#111"/>
<circle cx="268.5" cy="852.3" r="3.3" fill="#111"/>
<circle cx="305.3" cy="834.5" r="3.3" fill="#111"/>
<circle cx="303.9" cy="842.5" r="3.3" fill="#111"/>
<circle cx="308.5" cy="847.5" r="3.3" fill="#111"/>
<circle cx="302.5" cy="850.5" r="3.3" fill="#111"/>
<circle cx="310.5" cy="851.5" r="3.3" fill="#111"/>
<circle cx="331.3" cy="833.2" r="3.3" fill="#111"/>
<circle cx="330.6" cy="845.0" r="3.3" fill="#111"/>
<circle cx="327.0" cy="851.0" r="3.3" fill="#111"/>
<circle cx="334.5" cy="850.0" r="3.3" fill="#111"/>
<circle cx="332.0" cy="852.0" r="3.3" fill="#111"/>
<line x1="358.1" y1="766.7" x2="358.1" y2="807.6" stroke="#222" stroke-width="1.2"/>
<line x1="354.1" y1="766.7" x2="362.1" y2="766.7" stroke="#222" stroke-width="1.2"/>
<line x1="354.1" y1="807.6" x2="362.1" y2="807.6" stroke="#222" stroke-width="1.2"/>
<circle cx="358.1" cy="722.9" r="3.3" fill="#111"/>
<circle cx="358.1" cy="758.7" r="3.3" fill="#111"/>
<circle cx="358.1" cy="797.0" r="3.3" fill="#111"/>
<circle cx="358.1" cy="824.1" r="3.3" fill="#111"/>
<circle cx="358.1" cy="837.2" r="3.3" fill="#111"/>
<circle cx="397.6" cy="839.8" r="3.3" fill="#111"/>
<circle cx="401.2" cy="846.4" r="3.3" fill="#111"/>
<circle cx="395.0" cy="849.7" r="3.3" fill="#111"/>
<circle cx="399.0" cy="851.0" r="3.3" fill="#111"/>
<circle cx="402.5" cy="851.5" r="3.3" fill="#111"/>
<circle cx="423.2" cy="842.7" r="3.3" fill="#111"/>
<circle cx="426.8" cy="845.3" r="3.3" fill="#111"/>
<circle cx="428.6" cy="850.0" r="3.3" fill="#111"/>
<circle cx="420.6" cy="852.6" r="3.3" fill="#111"/>
<line x1="451.2" y1="828.8" x2="451.2" y2="840.0" stroke="#222" stroke-width="1.2"/>
<line x1="447.2" y1="828.8" x2="455.2" y2="828.8" stroke="#222" stroke-width="1.2"/>
<line x1="447.2" y1="840.0" x2="455.2" y2="840.0" stroke="#222" stroke-width="1.2"/>
<circle cx="450.6" cy="816.8" r="3.3" fill="#111"/>
<circle cx="454.2" cy="831.8" r="3.3" fill="#111"/>
<circle cx="455.0" cy="839.8" r="3.3" fill="#111"/>
<circle cx="446.9" cy="840.5" r="3.3" fill="#111"/>
<circle cx="451.0" cy="838.0" r="3.3" fill="#111"/>
<line x1="105.3" y1="853.2" x2="468.3" y2="853.2" stroke="#111" stroke-width="1.3"/>
<line x1="120.1" y1="853.2" x2="120.1" y2="856.7" stroke="#111" stroke-width="1.2"/>
<line x1="145.6" y1="853.2" x2="145.6" y2="856.7" stroke="#111" stroke-width="1.2"/>
<line x1="171.8" y1="853.2" x2="171.8" y2="856.7" stroke="#111" stroke-width="1.2"/>
<line x1="213.0" y1="853.2" x2="213.0" y2="856.7" stroke="#111" stroke-width="1.2"/>
<line x1="238.5" y1="853.2" x2="238.5" y2="856.7" stroke="#111" stroke-width="1.2"/>
<line x1="264.7" y1="853.2" x2="264.7" y2="856.7" stroke="#111" stroke-width="1.2"/>
<line x1="306.0" y1="853.2" x2="306.0" y2="856.7" stroke="#111" stroke-width="1.2"/>
<line x1="331.5" y1="853.2" x2="331.5" y2="856.7" stroke="#111" stroke-width="1.2"/>
<line x1="358.1" y1="853.2" x2="358.1" y2="856.7" stroke="#111" stroke-width="1.2"/>
<line x1="399.0" y1="853.2" x2="399.0" y2="856.7" stroke="#111" stroke-width="1.2"/>
<line x1="424.5" y1="853.2" x2="424.5" y2="856.7" stroke="#111" stroke-width="1.2"/>
<line x1="451.2" y1="853.2" x2="451.2" y2="856.7" stroke="#111" stroke-width="1.2"/>
<rect x="0.6" y="0.6" width="518.8" height="907.8" fill="none" stroke="#1c1c1c" stroke-width="1.3"/>
</svg>
</body></html>
